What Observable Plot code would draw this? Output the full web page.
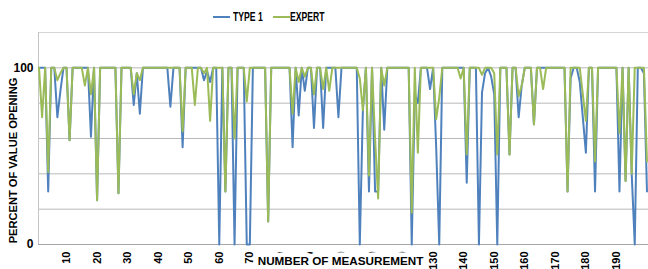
<!DOCTYPE html>
<html><head><meta charset="utf-8">
<script src="https://cdn.jsdelivr.net/npm/d3@7"></script>
<script src="https://cdn.jsdelivr.net/npm/@observablehq/plot@0.6"></script>
<style>
body{margin:0;background:#fff;}
#wrap{position:relative;width:648px;height:269px;overflow:hidden;font-family:"Liberation Sans",Arial,sans-serif;font-weight:bold;color:#000;}
#legend{position:relative;width:648px;height:28px;font-size:12px;}
.item{position:absolute;top:10px;height:14px;line-height:14px;white-space:nowrap;}
.sw{position:absolute;left:0;top:6px;width:17px;height:2px;}
.lab{position:absolute;top:0;display:inline-block;transform:scaleX(0.72);transform-origin:0 50%;}
</style></head>
<body>
<div id="wrap">
  <div id="legend"></div>
  <div id="chart"></div>
</div>
<script>
// Measurement numbers (category axis)
const measurement = d3.range(1, 201);
// TYPE 1 series (percent of valve opening)
const type1 = [
 100,100,100,30,100,100,72,87,100,100,
 59,100,100,100,100,100,100,61,100,25,
 100,100,100,100,100,100,29,100,100,100,
 100,79,97,74,100,100,100,100,100,100,
 100,100,100,78,100,100,100,55,100,100,
 100,100,100,100,93,98,92,100,100,0,
 100,30,100,100,0,100,100,100,0,0,
 100,100,100,100,100,13,100,100,100,100,
 100,100,100,55,100,73,100,87,100,100,
 66,100,100,66,100,100,100,100,72,100,
 100,100,100,100,100,0,76,100,30,100,
 30,30,100,65,100,100,100,100,100,100,
 100,100,0,85,80,100,100,100,88,100,
 55,0,100,100,100,100,100,100,100,100,
 35,100,100,100,0,86,97,100,95,85,
 0,100,100,100,51,100,100,72,90,100,
 100,100,68,100,100,100,100,100,100,100,
 100,100,100,30,94,100,100,92,72,52,
 100,100,30,100,100,100,100,100,100,100,
 30,100,36,100,40,0,100,100,97,30
];
// EXPERT series
const expert = [
 100,72,100,41,100,100,93,97,100,100,
 59,100,100,100,100,90,100,85,100,25,
 100,100,100,100,100,100,29,100,100,100,
 100,85,97,93,100,100,100,100,100,100,
 100,100,100,100,100,100,100,64,100,100,
 100,79,100,100,97,100,70,100,100,100,
 100,30,100,100,60,100,100,100,81,100,
 100,100,100,100,100,13,100,100,100,100,
 100,100,100,74,100,92,100,95,100,100,
 85,100,100,88,100,87,100,100,100,100,
 100,100,100,100,100,94,76,100,39,100,
 60,26,100,90,100,100,100,100,100,100,
 100,100,18,100,52,100,100,100,100,100,
 71,83,100,100,100,100,100,100,94,100,
 51,100,100,100,100,96,100,100,100,97,
 51,100,100,100,51,100,100,84,90,100,
 100,100,68,100,100,88,100,100,100,100,
 100,100,100,30,100,100,100,100,85,70,
 100,100,47,100,100,100,100,100,100,100,
 63,100,36,100,40,100,100,100,100,47
];
const seriesNames = ["TYPE 1", "EXPERT"];
const seriesColors = ["#4f81bd", "#9bbb59"];
const xTicks = [10,20,30,40,50,60,70,80,90,100,110,120,130,140,150,160,170,180,190];
const yTicks = [0, 100];
const gridValues = [20, 40, 60, 80, 100];
const xTitle = "NUMBER OF MEASUREMENT";
const yTitle = "PERCENT OF VALUE OPENING";

const xDomain = [0.825, 200.5];
const yDomain = [0, 120];

const rows1 = measurement.map((m, i) => ({m, v: type1[i]}));
const rows2 = measurement.map((m, i) => ({m, v: expert[i]}));

// Legend
const legend = document.getElementById("legend");
const legendLeft = [213, 273];
seriesNames.forEach((name, i) => {
  const it = document.createElement("div");
  it.className = "item";
  it.style.left = legendLeft[i] + "px";
  it.innerHTML = `<span class="sw" style="background:${seriesColors[i]}"></span><span class="lab" style="left:${i ? 17 : 20}px">${name}</span>`;
  legend.appendChild(it);
});

const chart = Plot.plot({
  width: 648,
  height: 241,
  marginLeft: 38,
  marginRight: 0,
  marginTop: 4,
  marginBottom: 25,
  style: {fontFamily: '"Liberation Sans",Arial,sans-serif', fontWeight: "bold", fontSize: "12px", color: "#000", background: "#fff"},
  x: {domain: xDomain, axis: null},
  y: {domain: yDomain, axis: null},
  marks: [
    Plot.ruleY(gridValues, {stroke: "#b9b9b9", strokeWidth: 1}),
    Plot.ruleY([yDomain[1]], {stroke: "#d4d4d4", strokeWidth: 1}),
    Plot.ruleY([yDomain[0]], {stroke: "#a6a6a6", strokeWidth: 1}),
    Plot.ruleX([xDomain[0]], {stroke: "#c4c4c4", strokeWidth: 1}),
    Plot.line(rows1, {x: "m", y: "v", stroke: seriesColors[0], strokeWidth: 2}),
    Plot.line(rows2, {x: "m", y: "v", stroke: seriesColors[1], strokeWidth: 2}),
    Plot.axisX(xTicks, {tickSize: 0, tickRotate: -90, tickPadding: 7, fontSize: 11, label: null}),
    Plot.axisY(yTicks, {tickSize: 0, tickPadding: 5, fontSize: 12, label: null}),
    Plot.text([xTitle], {frameAnchor: "bottom", textAnchor: "middle", lineAnchor: "middle", dy: 17, dx: -3, fontSize: 11.7, fill: "#000", stroke: "white", strokeWidth: 9}),
    Plot.text([yTitle], {frameAnchor: "left", rotate: -90, textAnchor: "middle", lineAnchor: "middle", dx: -25, dy: 22, fontSize: 11.1, fill: "#000"})
  ]
});
document.getElementById("chart").appendChild(chart);
</script>
</body></html>
